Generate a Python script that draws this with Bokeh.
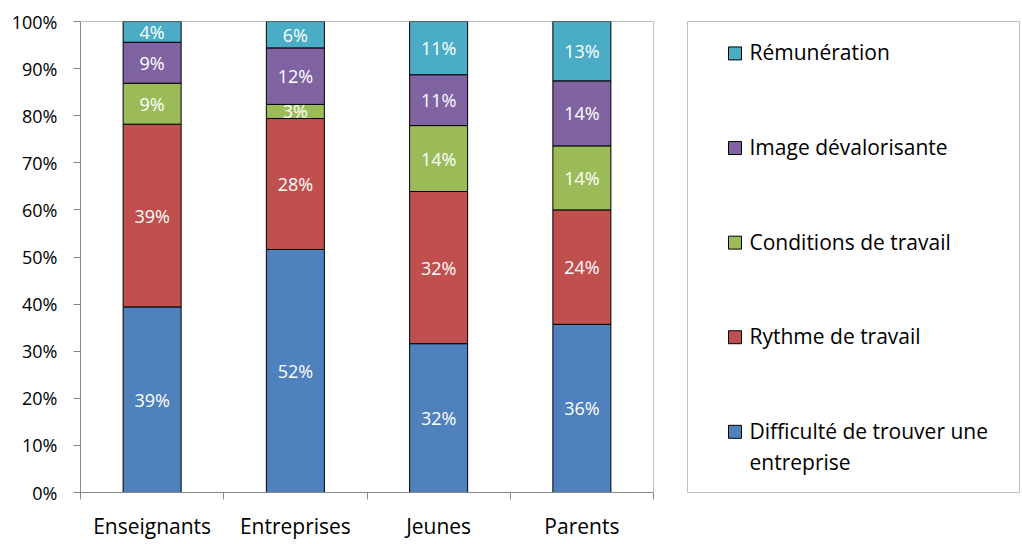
import textwrap
from bokeh.plotting import figure
from bokeh.layouts import row
from bokeh.models import Range1d, FixedTicker, NumeralTickFormatter, ColumnDataSource
from bokeh.embed import file_html
from bokeh.resources import INLINE
from bokeh.core.properties import value

# ---- data (percent of respondents) ----
categories = ["Enseignants", "Entreprises", "Jeunes", "Parents"]
series = ["Difficulté de trouver une entreprise", "Rythme de travail",
          "Conditions de travail", "Image dévalorisante", "Rémunération"]
difficulte = [39.4, 51.6, 31.6, 35.7]
rythme = [38.8, 27.8, 32.3, 24.3]
conditions = [8.7, 3.0, 14.0, 13.6]
image = [8.7, 12.0, 10.8, 13.8]
remuneration = [4.4, 5.6, 11.3, 12.6]
y_ticks = [0.0, 0.1, 0.2, 0.3, 0.4, 0.5, 0.6, 0.7, 0.8, 0.9, 1.0]
colors = ["#4F81BD", "#C0504D", "#9BBB59", "#8064A2", "#4BACC6"]

values = [difficulte, rythme, conditions, image, remuneration]
keys = ["s%d" % i for i in range(len(series))]
xs = [i + 0.5 for i in range(len(categories))]

data = {"x": xs}
for k, v in zip(keys, values):
    data[k] = [a / 100.0 for a in v]
src = ColumnDataSource(data)

FONT = "Open Sans"
AXIS_GRAY = "#868686"
BORDER_GRAY = "#BFBFBF"
H = 542

p = figure(width=679, height=H, x_range=Range1d(0, len(categories)),
           y_range=Range1d(0, 1), output_backend="svg", toolbar_location=None,
           min_border_left=80, min_border_right=26, min_border_top=21,
           min_border_bottom=50)
p.outline_line_color = BORDER_GRAY
p.grid.visible = False
p.background_fill_color = "white"
p.border_fill_color = "white"

p.vbar_stack(keys, x="x", width=0.405, color=colors, line_color="black",
             line_width=1, source=src)

# segment labels
lx, ly, lt = [], [], []
bottoms = [0.0] * len(categories)
for v in values:
    for j, a in enumerate(v):
        f = a / 100.0
        lx.append(xs[j])
        ly.append(bottoms[j] + f / 2)
        lt.append("%d%%" % round(a))
        bottoms[j] += f
p.text(x=lx, y=ly, text=lt, text_color="white", text_font=value(FONT),
       text_font_size="18px", text_align="center", text_baseline="middle")

# axes
xa = p.xaxis[0]
xa.ticker = FixedTicker(ticks=xs, minor_ticks=list(range(len(categories) + 1)))
xa.major_label_overrides = {x: c for x, c in zip(xs, categories)}
xa.major_tick_line_color = None
xa.minor_tick_in = 0
xa.minor_tick_out = 7
xa.minor_tick_line_color = AXIS_GRAY
xa.axis_line_color = AXIS_GRAY
xa.major_label_text_font = FONT
xa.major_label_text_font_size = "21px"
xa.major_label_text_color = "black"
xa.major_label_standoff = 12

ya = p.yaxis[0]
ya.ticker = FixedTicker(ticks=y_ticks)
ya.formatter = NumeralTickFormatter(format="0%")
ya.major_tick_in = 0
ya.major_tick_out = 7
ya.minor_tick_line_color = None
ya.major_tick_line_color = AXIS_GRAY
ya.axis_line_color = AXIS_GRAY
ya.major_label_text_font = FONT
ya.major_label_text_font_size = "18px"
ya.major_label_text_color = "black"
ya.major_label_standoff = 16

# ---- legend panel ----
LFW = 341
LW, LH = LFW - 8, 472
lf = figure(width=LFW, height=H, x_range=Range1d(0, LW), y_range=Range1d(LH, 0),
            output_backend="svg", toolbar_location=None,
            x_axis_location=None, y_axis_location=None,
            min_border_left=8, min_border_right=0, min_border_top=21,
            min_border_bottom=H - 21 - LH)
lf.grid.visible = False
lf.outline_line_color = BORDER_GRAY

order = list(range(len(series)))[::-1]
sq_x, sq_y, sq_c = [], [], []
tx, ty, tt = [], [], []
step = 94.8
for n, i in enumerate(order):
    yc = 31 + n * step
    sq_x.append(47.5)
    sq_y.append(yc + 1)
    sq_c.append(colors[i])
    for k, line in enumerate(textwrap.wrap(series[i], 25)):
        tx.append(62)
        ty.append(yc + k * 31)
        tt.append(line)
lf.rect(x=sq_x, y=sq_y, width=13, height=13, fill_color=sq_c,
        line_color="black", line_width=1)
lf.text(x=tx, y=ty, text=tt, text_color="black", text_font=value(FONT),
        text_font_size="21px", text_align="left", text_baseline="middle")

layout = row(p, lf)
open("out.html", "w").write(file_html(layout, INLINE))
